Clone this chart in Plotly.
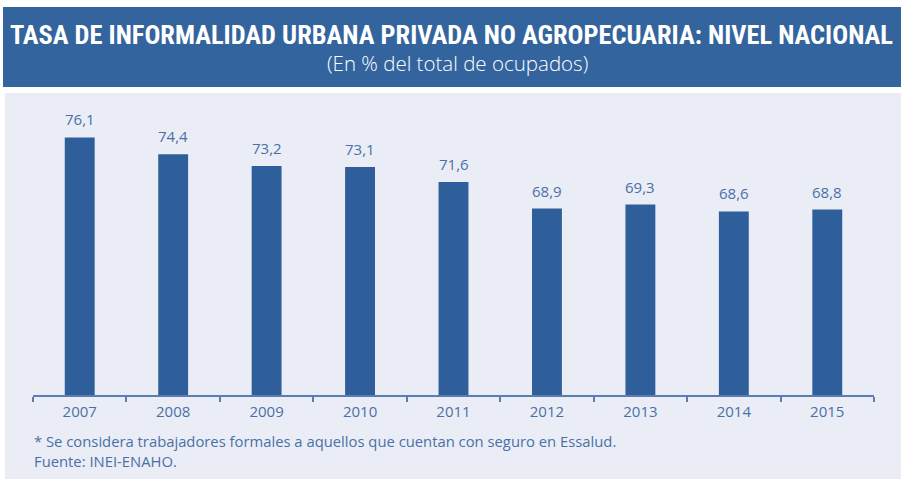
import plotly.graph_objects as go

years = ["2007", "2008", "2009", "2010", "2011", "2012", "2013", "2014", "2015"]
values = [76.1, 74.4, 73.2, 73.1, 71.6, 68.9, 69.3, 68.6, 68.8]
labels = [f"{v:.1f}".replace(".", ",") for v in values]

title = "TASA DE INFORMALIDAD URBANA PRIVADA NO AGROPECUARIA: NIVEL NACIONAL"
subtitle = "(En % del total de ocupados)"
note1 = "* Se considera trabajadores formales a aquellos que cuentan con seguro en Essalud."
note2 = "Fuente: INEI-ENAHO."

W, H = 901, 479
BANNER = "#33649E"
BAR = "#2F5F9B"
PANEL = "#EAEDF5"
TEXT = "#4A70A8"

def py(p):
    return 1 - p / H

fig = go.Figure()
fig.add_trace(go.Bar(x=years, y=values, marker=dict(color=BAR, line=dict(width=0)),
                     hoverinfo="skip"))

annots = []
for i, (v, lab) in enumerate(zip(values, labels)):
    annots.append(dict(x=i, y=v, xref="x", yref="y", text=lab, showarrow=False,
                       xanchor="center", yanchor="bottom", yshift=6,
                       font=dict(family="Open Sans", size=15, color=TEXT)))

annots += [
    dict(x=451.5 / W, y=py(35.5), xref="paper", yref="paper", text="<b>" + title + "</b>",
         showarrow=False, xanchor="center", yanchor="middle",
         font=dict(family="Liberation Sans Narrow, Roboto Condensed, Arial Narrow, sans-serif",
                   size=26.4, color="white")),
    dict(x=457 / W, y=py(62.5), xref="paper", yref="paper", text=subtitle,
         showarrow=False, xanchor="center", yanchor="middle",
         font=dict(family="Open Sans", size=20.5, color="white", weight=300)),
    dict(x=32 / W, y=py(441), xref="paper", yref="paper", text=note1,
         showarrow=False, xanchor="left", yanchor="middle",
         font=dict(family="Open Sans", size=14.8, color=TEXT)),
    dict(x=32 / W, y=py(461), xref="paper", yref="paper", text=note2,
         showarrow=False, xanchor="left", yanchor="middle",
         font=dict(family="Open Sans", size=14.8, color=TEXT)),
]

fig.update_layout(
    width=W, height=H,
    margin=dict(l=0, r=0, t=0, b=0),
    paper_bgcolor="white",
    plot_bgcolor="rgba(0,0,0,0)",
    showlegend=False,
    bargap=0.68,
    xaxis=dict(domain=[33 / W, 874 / W], range=[-0.5, 8.5], type="category",
               showline=True, linecolor="#5B7DB1", linewidth=1.5,
               ticks="outside", tickson="boundaries", ticklen=5, tickwidth=1.5,
               tickcolor="#5B7DB1", showgrid=False, zeroline=False,
               ticklabelstandoff=2,
               tickfont=dict(family="Open Sans", size=15, color=TEXT)),
    yaxis=dict(domain=[py(395), py(99)], range=[50, 80], showticklabels=False,
               ticks="", showline=False, showgrid=False, zeroline=False),
    shapes=[
        dict(type="rect", xref="paper", yref="paper", x0=5 / W, x1=1, y0=0, y1=py(93),
             fillcolor=PANEL, line=dict(width=0), layer="below"),
        dict(type="rect", xref="paper", yref="paper", x0=3 / W, x1=1, y0=py(87), y1=py(7),
             fillcolor=BANNER, line=dict(width=0), layer="below"),
    ],
    annotations=annots,
)

fig.write_html("out.html", config={"displayModeBar": False},
               post_script="document.body.style.margin='0';document.body.style.padding='0';")
